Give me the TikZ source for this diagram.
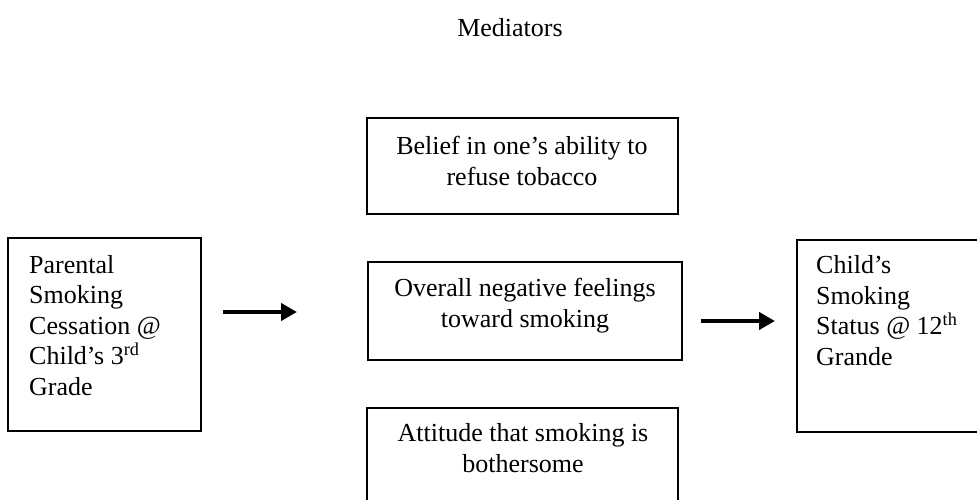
\documentclass[tikz,border=0pt]{standalone}
\usepackage{fontspec}
\setmainfont{Liberation Serif}
\usetikzlibrary{arrows.meta}
\begin{document}
\begin{tikzpicture}[x=1pt,y=-1pt,
  box/.style={draw, line width=1.5pt, inner sep=0pt},
  lbl/.style={font=\fontsize{26}{30.5}\selectfont, inner sep=0pt},
  arr/.style={line width=4pt, -{Triangle[length=16pt,width=17pt]}}]
\useasboundingbox[fill=white] (0,0) rectangle (977,500);
% title
\node[lbl, anchor=base] (title) at (510,37) {Mediators};
% boxes
\node[box, minimum width=193pt, minimum height=193pt] (L) at (104.5,334.5) {};
\node[box, minimum width=311pt, minimum height=96pt] (M1) at (522.5,166) {};
\node[box, minimum width=314pt, minimum height=98pt] (M2) at (525,311) {};
\node[box, minimum width=311pt, minimum height=132pt] (M3) at (522.5,474) {};
\node[box, minimum width=203pt, minimum height=192pt] (R) at (898.5,336) {};
% texts (base anchor = baseline of the last line)
\node[lbl, anchor=base west, align=left] (Lt) at (29,395)
  {Parental\\Smoking\\Cessation @\\Child’s 3\textsuperscript{rd}\\Grade};
\node[lbl, anchor=base, align=center] (M1t) at (522,185)
  {Belief in one’s ability to\\refuse tobacco};
\node[lbl, anchor=base, align=center] (M2t) at (525,327)
  {Overall negative feelings\\toward smoking};
\node[lbl, anchor=base, align=center] (M3t) at (523,472)
  {Attitude that smoking is\\bothersome};
\node[lbl, anchor=base west, align=left] (Rt) at (816,365)
  {Child’s\\Smoking\\Status @ 12\textsuperscript{th}\\Grande};
% arrows
\coordinate (a1s) at (223,312);
\coordinate (a1e) at (297,312);
\coordinate (a2s) at (701,321);
\coordinate (a2e) at (775,321);
\draw[arr] (a1s) -- (a1e);
\draw[arr] (a2s) -- (a2e);
\end{tikzpicture}
\end{document}
